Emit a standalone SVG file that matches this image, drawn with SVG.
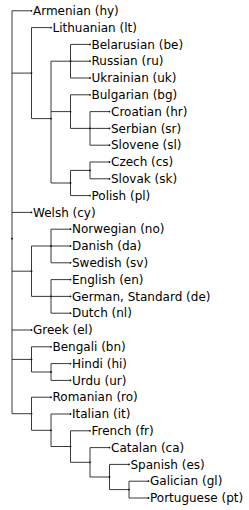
<svg xmlns="http://www.w3.org/2000/svg" width="249" height="510" viewBox="0 0 249 510">
<style>
.c{fill:none;stroke:#222;stroke-width:0.9}
.d{fill:#111}
text{font-family:"DejaVu Sans",sans-serif;font-size:12px;fill:#000}
</style>
<rect width="249" height="510" fill="#fff"/>
<g id="connectors" class="c">
<path d="M12 10.8V413.7
M12 10.8H31.5
M12 73.1H31.5 M31.5 27.6V118.6
M31.5 27.6H51
M31.5 118.6H51 M51 61.2V183
M51 61.2H70.5 M70.5 44.4V78
M70.5 44.4H90 M70.5 61.2H90 M70.5 78H90
M51 111.6H70.5 M70.5 94.8V128.4
M70.5 94.8H90
M70.5 128.4H90 M90 111.6V145.2
M90 111.6H109.5 M90 128.4H109.5 M90 145.2H109.5
M51 183H70.5 M70.5 170.4V195.6
M70.5 170.4H90 M90 162V178.8
M90 162H109.5 M90 178.8H109.5
M70.5 195.6H90
M12 212.4H31.5
M12 271.2H31.5 M31.5 246V296.4
M31.5 246H51 M51 229.2V262.8
M51 229.2H70.5 M51 246H70.5 M51 262.8H70.5
M31.5 296.4H51 M51 279.6V313.2
M51 279.6H70.5 M51 296.4H70.5 M51 313.2H70.5
M12 330H31.5
M12 359.4H31.5 M31.5 346.8V372
M31.5 346.8H51
M31.5 372H51 M51 363.6V380.4
M51 363.6H70.5 M51 380.4H70.5
M12 413.7H31.5 M31.5 397.2V430.3
M31.5 397.2H51
M31.5 430.3H51 M51 414V446.5
M51 414H70.5
M51 446.5H70.5 M70.5 430.8V462.3
M70.5 430.8H90
M70.5 462.3H90 M90 447.6V477
M90 447.6H109.5
M90 477H109.5 M109.5 464.4V489.6
M109.5 464.4H129
M109.5 489.6H129 M129 481.2V498
M129 481.2H148.5 M129 498H148.5"/>
</g>
<g id="internal-nodes" class="d">
<circle cx="12" cy="238.7" r="0.9"/>
<circle cx="31.5" cy="73.1" r="0.9"/>
<circle cx="51" cy="118.6" r="0.9"/>
<circle cx="70.5" cy="61.2" r="0.9"/>
<circle cx="70.5" cy="111.6" r="0.9"/>
<circle cx="90" cy="128.4" r="0.9"/>
<circle cx="70.5" cy="183" r="0.9"/>
<circle cx="90" cy="170.4" r="0.9"/>
<circle cx="31.5" cy="271.2" r="0.9"/>
<circle cx="51" cy="246" r="0.9"/>
<circle cx="51" cy="296.4" r="0.9"/>
<circle cx="31.5" cy="359.4" r="0.9"/>
<circle cx="51" cy="372" r="0.9"/>
<circle cx="31.5" cy="413.7" r="0.9"/>
<circle cx="51" cy="430.3" r="0.9"/>
<circle cx="70.5" cy="446.5" r="0.9"/>
<circle cx="90" cy="462.3" r="0.9"/>
<circle cx="109.5" cy="477" r="0.9"/>
<circle cx="129" cy="489.6" r="0.9"/>
</g>
<g id="hy"><circle class="d" cx="31.5" cy="10.8" r="0.9"/><text x="33" y="15">Armenian (hy)</text></g>
<g id="lt"><circle class="d" cx="51" cy="27.6" r="0.9"/><text x="52.5" y="31.8">Lithuanian (lt)</text></g>
<g id="be"><circle class="d" cx="90" cy="44.4" r="0.9"/><text x="91.5" y="48.6">Belarusian (be)</text></g>
<g id="ru"><circle class="d" cx="90" cy="61.2" r="0.9"/><text x="91.5" y="65.4">Russian (ru)</text></g>
<g id="uk"><circle class="d" cx="90" cy="78" r="0.9"/><text x="91.5" y="82.2">Ukrainian (uk)</text></g>
<g id="bg"><circle class="d" cx="90" cy="94.8" r="0.9"/><text x="91.5" y="99">Bulgarian (bg)</text></g>
<g id="hr"><circle class="d" cx="109.5" cy="111.6" r="0.9"/><text x="111" y="115.8">Croatian (hr)</text></g>
<g id="sr"><circle class="d" cx="109.5" cy="128.4" r="0.9"/><text x="111" y="132.6">Serbian (sr)</text></g>
<g id="sl"><circle class="d" cx="109.5" cy="145.2" r="0.9"/><text x="111" y="149.4">Slovene (sl)</text></g>
<g id="cs"><circle class="d" cx="109.5" cy="162" r="0.9"/><text x="111" y="166.2">Czech (cs)</text></g>
<g id="sk"><circle class="d" cx="109.5" cy="178.8" r="0.9"/><text x="111" y="183">Slovak (sk)</text></g>
<g id="pl"><circle class="d" cx="90" cy="195.6" r="0.9"/><text x="91.5" y="199.8">Polish (pl)</text></g>
<g id="cy"><circle class="d" cx="31.5" cy="212.4" r="0.9"/><text x="33" y="216.6">Welsh (cy)</text></g>
<g id="no"><circle class="d" cx="70.5" cy="229.2" r="0.9"/><text x="72" y="233.4">Norwegian (no)</text></g>
<g id="da"><circle class="d" cx="70.5" cy="246" r="0.9"/><text x="72" y="250.2">Danish (da)</text></g>
<g id="sv"><circle class="d" cx="70.5" cy="262.8" r="0.9"/><text x="72" y="267">Swedish (sv)</text></g>
<g id="en"><circle class="d" cx="70.5" cy="279.6" r="0.9"/><text x="72" y="283.8">English (en)</text></g>
<g id="de"><circle class="d" cx="70.5" cy="296.4" r="0.9"/><text x="72" y="300.6">German, Standard (de)</text></g>
<g id="nl"><circle class="d" cx="70.5" cy="313.2" r="0.9"/><text x="72" y="317.4">Dutch (nl)</text></g>
<g id="el"><circle class="d" cx="31.5" cy="330" r="0.9"/><text x="33" y="334.2">Greek (el)</text></g>
<g id="bn"><circle class="d" cx="51" cy="346.8" r="0.9"/><text x="52.5" y="351">Bengali (bn)</text></g>
<g id="hi"><circle class="d" cx="70.5" cy="363.6" r="0.9"/><text x="72" y="367.8">Hindi (hi)</text></g>
<g id="ur"><circle class="d" cx="70.5" cy="380.4" r="0.9"/><text x="72" y="384.6">Urdu (ur)</text></g>
<g id="ro"><circle class="d" cx="51" cy="397.2" r="0.9"/><text x="52.5" y="401.4">Romanian (ro)</text></g>
<g id="it"><circle class="d" cx="70.5" cy="414" r="0.9"/><text x="72" y="418.2">Italian (it)</text></g>
<g id="fr"><circle class="d" cx="90" cy="430.8" r="0.9"/><text x="91.5" y="435">French (fr)</text></g>
<g id="ca"><circle class="d" cx="109.5" cy="447.6" r="0.9"/><text x="111" y="451.8">Catalan (ca)</text></g>
<g id="es"><circle class="d" cx="129" cy="464.4" r="0.9"/><text x="130.5" y="468.6">Spanish (es)</text></g>
<g id="gl"><circle class="d" cx="148.5" cy="481.2" r="0.9"/><text x="150" y="485.4">Galician (gl)</text></g>
<g id="pt"><circle class="d" cx="148.5" cy="498" r="0.9"/><text x="150" y="502.2">Portuguese (pt)</text></g>
</svg>
